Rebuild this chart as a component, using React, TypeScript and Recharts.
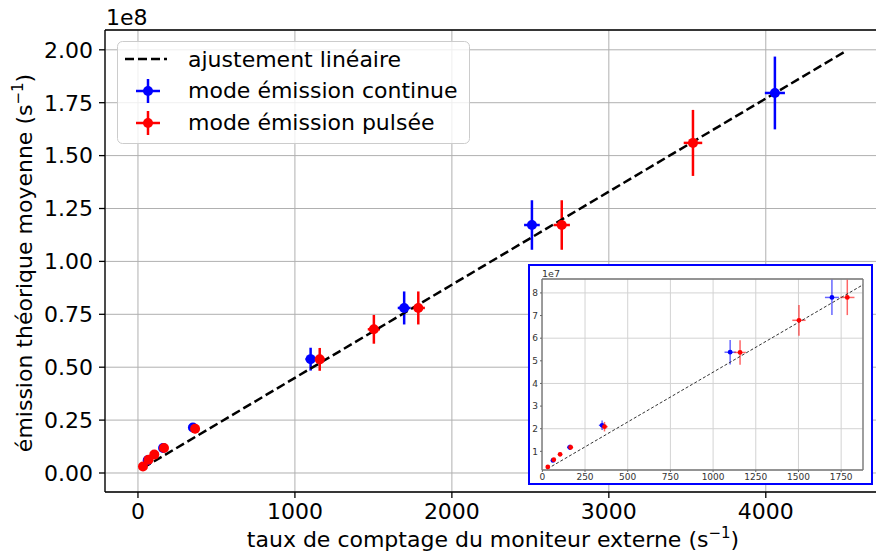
import React from 'react';
import { ComposedChart, Scatter, XAxis, YAxis, CartesianGrid, ErrorBar, ReferenceLine } from 'recharts';

// ---- data ----
const blueX = [62, 160, 350, 1100, 1696, 2510, 4058];
const blueY = [0.06e8, 0.118e8, 0.215e8, 0.538e8, 0.78e8, 1.172e8, 1.796e8];
const blueEx = [8, 13, 19, 33, 41, 50, 64];
const blueEy = [0.006e8, 0.012e8, 0.021e8, 0.054e8, 0.078e8, 0.117e8, 0.172e8];

const redX = [32, 67, 104, 166, 364, 1158, 1503, 1786, 2700, 3536];
const redY = [0.031e8, 0.063e8, 0.087e8, 0.118e8, 0.209e8, 0.537e8, 0.679e8, 0.78e8, 1.172e8, 1.56e8];
const redEx = [6, 8, 10, 13, 19, 34, 39, 42, 52, 59];
const redEy = [0.003e8, 0.006e8, 0.009e8, 0.012e8, 0.021e8, 0.054e8, 0.068e8, 0.078e8, 0.117e8, 0.156e8];

const fitX = [30, 4510];
const fitY = [0.023e8, 1.994e8];

const mainXTicks = [0, 1000, 2000, 3000, 4000];
const mainYTicks = [0, 0.25e8, 0.5e8, 0.75e8, 1.0e8, 1.25e8, 1.5e8, 1.75e8, 2.0e8];
const insetXTicks = [0, 250, 500, 750, 1000, 1250, 1500, 1750];
const insetYTicks = [1e7, 2e7, 3e7, 4e7, 5e7, 6e7, 7e7, 8e7];

const legendLabels = ['ajustement linéaire', 'mode émission continue', 'mode émission pulsée'];
const xLabel = 'taux de comptage du moniteur externe (s';
const yLabel = 'émission théorique moyenne (s';

// ---- derived tables ----
const blueData = blueX.map((x, i) => ({ x, y: blueY[i], ex: blueEx[i], ey: blueEy[i] }));
const redData = redX.map((x, i) => ({ x, y: redY[i], ex: redEx[i], ey: redEy[i] }));
const fitData = fitX.map((x, i) => ({ x, y: fitY[i] }));
const INSET_XMAX = 1878;
const blueInset = blueData.filter(d => d.x < INSET_XMAX);
const redInset = redData.filter(d => d.x < INSET_XMAX);

const FONT = '"DejaVu Sans", Verdana, sans-serif';
const BLUE = '#0000ff';
const RED = '#ff0000';

const MAIN_XDOM: [number, number] = [-210, 4734];
const MAIN_YDOM: [number, number] = [-0.0898e8, 2.0936e8];
const INS_XDOM: [number, number] = [-2, INSET_XMAX];
const INS_YDOM: [number, number] = [0.176e7, 8.615e7];

const dot = (color: string, r: number) => (p: any) => <circle cx={p.cx} cy={p.cy} r={r} fill={color} />;
const noShape = () => <g />;

const XLabel = () => (
  <text x={493} y={547} textAnchor="middle" fontSize={22} fontFamily={FONT} fill="#000">
    {xLabel}
    <tspan dy={-9} fontSize={15}>−1</tspan>
    <tspan dy={9}>)</tspan>
  </text>
);

const YLabel = () => (
  <text x={0} y={0} transform="translate(32,263) rotate(-90)" textAnchor="middle" fontSize={22} fontFamily={FONT} fill="#000">
    {yLabel}
    <tspan dy={-9} fontSize={15}>−1</tspan>
    <tspan dy={9}>)</tspan>
  </text>
);

export default function App() {
  return (
    <div style={{ position: 'absolute', left: 0, top: 0, width: 876, height: 555, overflow: 'hidden', background: '#fff' }}>
      <div style={{ position: 'absolute', left: 0, top: 0 }}>
        <ComposedChart width={890} height={555} margin={{ top: 30, right: 9, left: 0, bottom: 0 }}>
          <CartesianGrid stroke="#b0b0b0" strokeWidth={1} />
          <XAxis
            type="number"
            dataKey="x"
            domain={MAIN_XDOM}
            ticks={mainXTicks}
            allowDataOverflow
            height={63}
            tickSize={6}
            tickMargin={5}
            tick={{ fontSize: 22, fill: '#000', fontFamily: FONT }}
            tickLine={{ stroke: '#000', strokeWidth: 1.3 }}
            axisLine={{ stroke: '#000', strokeWidth: 1.3 }}
            label={<XLabel />}
          />
          <YAxis
            type="number"
            dataKey="y"
            domain={MAIN_YDOM}
            ticks={mainYTicks}
            allowDataOverflow
            width={105}
            tickSize={6}
            tickMargin={6}
            tickFormatter={(v: number) => (v / 1e8).toFixed(2)}
            tick={{ fontSize: 22, fill: '#000', fontFamily: FONT }}
            tickLine={{ stroke: '#000', strokeWidth: 1.3 }}
            axisLine={{ stroke: '#000', strokeWidth: 1.3 }}
            label={<YLabel />}
          />
          <ReferenceLine y={MAIN_YDOM[1]} stroke="#000" strokeWidth={1.3} />
          <Scatter
            data={fitData}
            line={{ stroke: '#000', strokeWidth: 2.5, strokeDasharray: '9 4' }}
            shape={noShape}
            isAnimationActive={false}
            legendType="none"
          />
          <Scatter data={blueData} shape={dot(BLUE, 5)} isAnimationActive={false}>
            <ErrorBar dataKey="ey" direction="y" width={0} stroke={BLUE} strokeWidth={2.5} isAnimationActive={false} />
            <ErrorBar dataKey="ex" direction="x" width={0} stroke={BLUE} strokeWidth={2.5} isAnimationActive={false} />
          </Scatter>
          <Scatter data={redData} shape={dot(RED, 5)} isAnimationActive={false}>
            <ErrorBar dataKey="ey" direction="y" width={0} stroke={RED} strokeWidth={2.5} isAnimationActive={false} />
            <ErrorBar dataKey="ex" direction="x" width={0} stroke={RED} strokeWidth={2.5} isAnimationActive={false} />
          </Scatter>
        </ComposedChart>
      </div>

      {/* overlay: offset text and legend */}
      <svg width={876} height={555} style={{ position: 'absolute', left: 0, top: 0, pointerEvents: 'none' }}>
        <text x={106} y={25} fontSize={22} fontFamily={FONT} fill="#000">1e8</text>
        <rect x={117.5} y={41.5} width={352} height={102} rx={5} ry={5} fill="#fff" fillOpacity={0.8} stroke="#cccccc" strokeWidth={1} />
        <line x1={125} y1={59} x2={167} y2={59} stroke="#000" strokeWidth={2.5} strokeDasharray="9 4" />
        <line x1={136} y1={91} x2={160} y2={91} stroke={BLUE} strokeWidth={2.5} />
        <line x1={148} y1={79} x2={148} y2={103} stroke={BLUE} strokeWidth={2.5} />
        <circle cx={148} cy={91} r={5} fill={BLUE} />
        <line x1={136} y1={123} x2={160} y2={123} stroke={RED} strokeWidth={2.5} />
        <line x1={148} y1={111} x2={148} y2={135} stroke={RED} strokeWidth={2.5} />
        <circle cx={148} cy={123} r={5} fill={RED} />
        <text x={188} y={66.5} fontSize={22} fontFamily={FONT} fill="#000">{legendLabels[0]}</text>
        <text x={188} y={98} fontSize={22} fontFamily={FONT} fill="#000">{legendLabels[1]}</text>
        <text x={188} y={130} fontSize={22} fontFamily={FONT} fill="#000">{legendLabels[2]}</text>
      </svg>

      {/* inset */}
      <div style={{ position: 'absolute', left: 528, top: 264, width: 345, height: 221, background: '#fff' }}>
        <ComposedChart width={345} height={221} margin={{ top: 15, right: 10, left: 0, bottom: 0 }}>
          <CartesianGrid stroke="#d3d3d3" strokeWidth={1} />
          <XAxis
            type="number"
            dataKey="x"
            domain={INS_XDOM}
            ticks={insetXTicks}
            allowDataOverflow
            height={15}
            tickSize={2}
            tickMargin={2}
            tick={{ fontSize: 9, fill: '#333', fontFamily: FONT }}
            tickLine={{ stroke: '#666' }}
            axisLine={{ stroke: '#777', strokeWidth: 1.3 }}
          />
          <YAxis
            type="number"
            dataKey="y"
            domain={INS_YDOM}
            ticks={insetYTicks}
            allowDataOverflow
            width={14}
            tickSize={2}
            tickMargin={2}
            tickFormatter={(v: number) => String(Math.round(v / 1e7))}
            tick={{ fontSize: 9, fill: '#333', fontFamily: FONT }}
            tickLine={{ stroke: '#666' }}
            axisLine={{ stroke: '#777', strokeWidth: 1.3 }}
          />
          <ReferenceLine y={INS_YDOM[1]} stroke="#777" strokeWidth={1.3} />
          <ReferenceLine x={INS_XDOM[1]} stroke="#777" strokeWidth={1.3} />
          <Scatter
            data={fitData}
            line={{ stroke: '#333', strokeWidth: 1, strokeDasharray: '3 2' }}
            shape={noShape}
            isAnimationActive={false}
            legendType="none"
          />
          <Scatter data={blueInset} shape={dot(BLUE, 2.4)} isAnimationActive={false}>
            <ErrorBar dataKey="ey" direction="y" width={0} stroke={BLUE} strokeOpacity={0.6} strokeWidth={1.5} isAnimationActive={false} />
            <ErrorBar dataKey="ex" direction="x" width={0} stroke={BLUE} strokeOpacity={0.6} strokeWidth={1.5} isAnimationActive={false} />
          </Scatter>
          <Scatter data={redInset} shape={dot(RED, 2.4)} isAnimationActive={false}>
            <ErrorBar dataKey="ey" direction="y" width={0} stroke={RED} strokeOpacity={0.6} strokeWidth={1.5} isAnimationActive={false} />
            <ErrorBar dataKey="ex" direction="x" width={0} stroke={RED} strokeOpacity={0.6} strokeWidth={1.5} isAnimationActive={false} />
          </Scatter>
        </ComposedChart>
        <svg width={345} height={221} style={{ position: 'absolute', left: 0, top: 0, pointerEvents: 'none' }}>
          <text x={14} y={13} fontSize={9.5} fontFamily={FONT} fill="#333">1e7</text>
          <rect x={1} y={1} width={343} height={219} fill="none" stroke={BLUE} strokeWidth={2} />
        </svg>
      </div>
    </div>
  );
}
